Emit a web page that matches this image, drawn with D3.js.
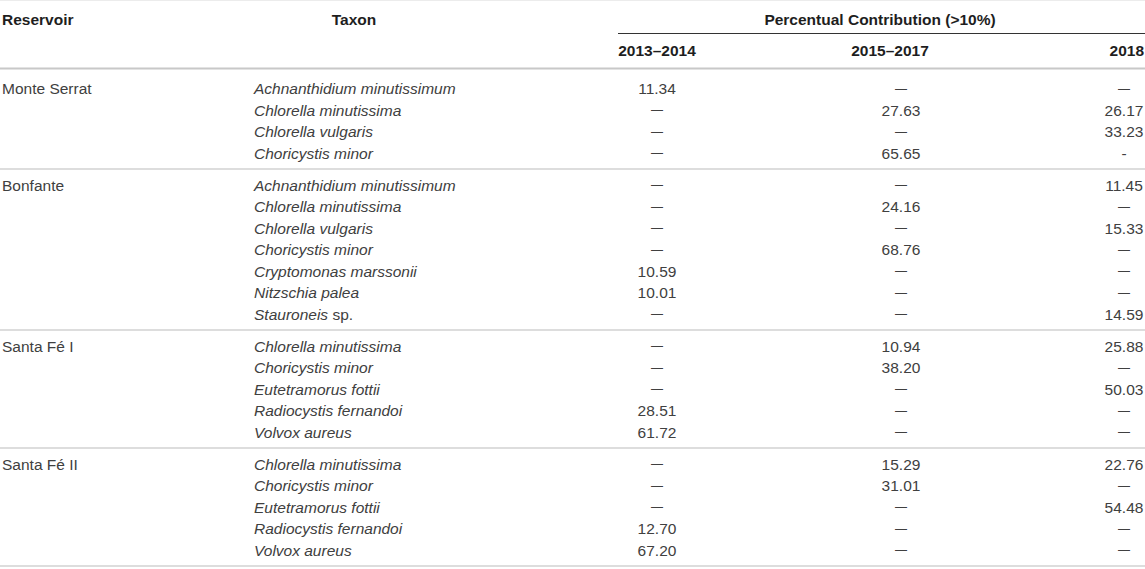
<!DOCTYPE html>
<html>
<head>
<meta charset="utf-8">
<script src="https://cdn.jsdelivr.net/npm/d3@7"></script>
<style>
  html, body { margin: 0; padding: 0; background: #fff; }
  svg { display: block; }
</style>
</head>
<body>
<svg id="chart" width="1145" height="569"></svg>
<script>
// ---- data ----
const reservoirs = ["Monte Serrat", "Bonfante", "Santa Fé I", "Santa Fé II"];
const rowReservoir = [
  "Monte Serrat","Monte Serrat","Monte Serrat","Monte Serrat",
  "Bonfante","Bonfante","Bonfante","Bonfante","Bonfante","Bonfante","Bonfante",
  "Santa Fé I","Santa Fé I","Santa Fé I","Santa Fé I","Santa Fé I",
  "Santa Fé II","Santa Fé II","Santa Fé II","Santa Fé II","Santa Fé II"
];
const rowTaxon = [
  "Achnanthidium minutissimum","Chlorella minutissima","Chlorella vulgaris","Choricystis minor",
  "Achnanthidium minutissimum","Chlorella minutissima","Chlorella vulgaris","Choricystis minor",
  "Cryptomonas marssonii","Nitzschia palea","Stauroneis|sp.",
  "Chlorella minutissima","Choricystis minor","Eutetramorus fottii","Radiocystis fernandoi","Volvox aureus",
  "Chlorella minutissima","Choricystis minor","Eutetramorus fottii","Radiocystis fernandoi","Volvox aureus"
];
const periods = ["2013–2014", "2015–2017", "2018"];
const v2013_2014 = [11.34,null,null,null, null,null,null,null,10.59,10.01,null, null,null,null,28.51,61.72, null,null,null,12.70,67.20];
const v2015_2017 = [null,27.63,null,65.65, null,24.16,null,68.76,null,null,null, 10.94,38.20,null,null,null, 15.29,31.01,null,null,null];
const v2018      = [null,26.17,33.23,"-", 11.45,null,15.33,null,null,null,14.59, 25.88,null,50.03,null,null, 22.76,null,54.48,null,null];
const periodValues = [v2013_2014, v2015_2017, v2018];
const headers = ["Reservoir", "Taxon", "Percentual Contribution (>10%)"];

// ---- layout ----
const svg = d3.select("#chart");
const FONT = "'Liberation Sans', Arial, Helvetica, sans-serif";
const textColor = "#404040";
const headColor = "#1e1e1e";
const fs = 15.5;
const rowH = 21.5;

// value column centers
const xVal = d3.scaleOrdinal().domain(periods).range([657, 901, 1124]);
const xHead = d3.scaleOrdinal().domain(periods).range([657, 890, 1144]);
const headAnchor = d3.scaleOrdinal().domain(periods).range(["middle", "middle", "end"]);

// row baselines
const groupSizes = reservoirs.map(r => rowReservoir.filter(x => x === r).length);
const sepY = [68.5];
let baselines = [];
reservoirs.forEach((r, g) => {
  const start = g === 0 ? 94 : sepY[g] + rowH;
  for (let i = 0; i < groupSizes[g]; i++) baselines.push(start + i * rowH);
  sepY.push(baselines[baselines.length - 1] + 10.5);
});
const yRow = d3.scaleOrdinal().domain(d3.range(rowTaxon.length)).range(baselines);

// faint top line
svg.append("line").attr("x1", 0).attr("x2", 1145).attr("y1", 0.5).attr("y2", 0.5)
  .attr("stroke", "#ececec").attr("stroke-width", 1);

// headers
const hdr = svg.append("g").attr("font-family", FONT).attr("font-size", fs)
  .attr("font-weight", "bold").attr("fill", headColor);
hdr.append("text").attr("x", 2).attr("y", 25).text(headers[0]);
hdr.append("text").attr("x", 354).attr("y", 25).attr("text-anchor", "middle").text(headers[1]);
hdr.append("text").attr("x", 880).attr("y", 25).attr("text-anchor", "middle").text(headers[2]);
hdr.selectAll("text.period").data(periods).join("text")
  .attr("class", "period")
  .attr("x", d => xHead(d)).attr("y", 56)
  .attr("text-anchor", d => headAnchor(d))
  .text(d => d);

// rule under "Percentual Contribution"
svg.append("line").attr("x1", 618).attr("x2", 1145).attr("y1", 33.5).attr("y2", 33.5)
  .attr("stroke", "#333").attr("stroke-width", 1.2);

// header bottom rule
svg.append("line").attr("x1", 0).attr("x2", 1145).attr("y1", sepY[0]).attr("y2", sepY[0])
  .attr("stroke", "#c8c8c8").attr("stroke-width", 2.2);

// group separators
svg.selectAll("line.sep").data(sepY.slice(1)).join("line")
  .attr("class", "sep")
  .attr("x1", 0).attr("x2", 1145)
  .attr("y1", d => d).attr("y2", d => d)
  .attr("stroke", "#d2d2d2").attr("stroke-width", 1.5);

// body
const body = svg.append("g").attr("font-family", FONT).attr("font-size", fs).attr("fill", textColor);

// reservoir labels (first row of each group)
let firstIdx = reservoirs.map(r => rowReservoir.indexOf(r));
body.selectAll("text.res").data(reservoirs).join("text")
  .attr("class", "res")
  .attr("x", 2)
  .attr("y", (d, i) => yRow(firstIdx[i]))
  .text(d => d);

// taxa
body.selectAll("text.tax").data(rowTaxon).join("text")
  .attr("class", "tax")
  .attr("x", 254)
  .attr("y", (d, i) => yRow(i))
  .each(function(d) {
    const parts = d.split("|");
    const t = d3.select(this);
    t.append("tspan").attr("font-style", "italic").text(parts[0]);
    if (parts[1]) t.append("tspan").text(" " + parts[1]);
  });

// values
periods.forEach((p, pi) => {
  body.selectAll("text.v" + pi).data(periodValues[pi]).join("text")
    .attr("class", "v" + pi)
    .attr("x", xVal(p))
    .attr("y", (d, i) => yRow(i) + (d === null ? -1.2 : 0))
    .attr("text-anchor", "middle")
    .attr("font-size", d => d === null ? 12 : fs)
    .text(d => d === null ? "—" : (typeof d === "string" ? d : d.toFixed(2)));
});
</script>
</body>
</html>
